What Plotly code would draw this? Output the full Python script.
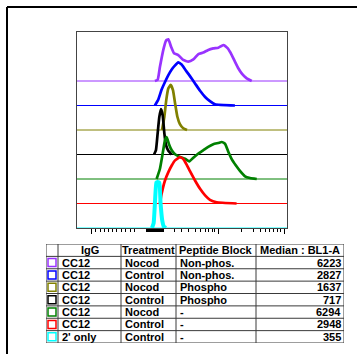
import plotly.graph_objects as go

W, H = 357, 354

# ---- histogram data (x in display channels 0-1000, y = normalized count) ----
series_names = ["CC12 Nocod Non-phos.", "CC12 Control Non-phos.", "CC12 Nocod Phospho",
                "CC12 Control Phospho", "CC12 Nocod -", "CC12 Control -", "2' only Control"]
series_colors = ["#9933FF", "#0000FF", "#808000", "#000000", "#008000", "#FF0000", "#00FFFF"]

purple_x = [371, 384, 395, 411, 424, 435, 448, 462, 482, 506, 530, 554, 578, 601, 625, 649, 673, 697, 718, 737, 752, 768, 786, 808, 832]
purple_y = [0, 0.05, 0.58, 1.27, 1.65, 1.70, 1.40, 1.13, 1.06, 0.86, 0.79, 0.88, 1.10, 1.16, 1.27, 1.33, 1.36, 1.47, 1.33, 1.06, 0.79, 0.52, 0.29, 0.11, 0]

blue_x = [371, 387, 403, 419, 435, 451, 467, 482, 498, 514, 538, 562, 586, 610, 633, 657, 752]
blue_y = [0, 0.24, 0.65, 0.96, 1.24, 1.47, 1.64, 1.76, 1.67, 1.48, 1.20, 0.90, 0.60, 0.35, 0.18, 0.05, 0]

olive_x = [405, 416, 425, 435, 446, 457, 467, 478, 490, 506, 524]
olive_y = [0, 0.54, 1.22, 1.70, 1.84, 1.63, 1.09, 0.54, 0.24, 0.07, 0]

black_x = [367, 376, 384, 392, 400, 408, 416, 424, 435, 451]
black_y = [0, 0.18, 0.86, 1.53, 1.85, 1.60, 0.86, 0.38, 0.15, 0]

green_x = [379, 395, 408, 419, 427, 438, 451, 467, 490, 514, 535, 554, 578, 601, 625, 649, 673, 689, 705, 721, 738, 756, 776, 800, 824, 856]
green_y = [0, 0.42, 1.04, 1.58, 1.71, 1.42, 1.17, 1.01, 0.90, 0.83, 0.72, 0.87, 1.04, 1.17, 1.31, 1.42, 1.47, 1.51, 1.44, 1.10, 0.79, 0.56, 0.33, 0.11, 0.04, 0]

red_x = [395, 403, 419, 435, 451, 467, 490, 506, 522, 538, 562, 586, 610, 633, 665, 760]
red_y = [0, 0.40, 0.94, 1.28, 1.55, 1.76, 1.89, 1.82, 1.59, 1.32, 0.94, 0.60, 0.33, 0.15, 0.05, 0]

cyan_x = [357, 365, 371, 378, 384, 392, 398, 406, 414, 424]
cyan_y = [0, 0.2, 1.0, 1.85, 1.88, 1.85, 1.0, 0.3, 0.05, 0]

# tick positions (display channels)
major_ticks = [70, 675, 986]
minor_ticks = [89, 110, 130, 151, 170, 190, 211, 232, 254, 275,
               462, 499, 532, 565, 587, 611, 627, 643, 656,
               782, 840, 875, 899, 919, 937, 954, 967]
zero_cluster = list(range(329, 414, 3))

# ---- table data ----
col_igg = ["CC12", "CC12", "CC12", "CC12", "CC12", "CC12", "2' only"]
col_treatment = ["Nocod", "Control", "Nocod", "Control", "Nocod", "Control", "Control"]
col_peptide = ["Non-phos.", "Non-phos.", "Phospho", "Phospho", "-", "-", "-"]
col_median = [6223, 2827, 1637, 717, 6294, 2948, 355]
header_labels = ["", "IgG", "Treatment", "Peptide Block", "Median : BL1-A"]
col_widths = [12, 63, 55, 80, 88]

curves_x = [purple_x, blue_x, olive_x, black_x, green_x, red_x, cyan_x]
curves_y = [purple_y, blue_y, olive_y, black_y, green_y, red_y, cyan_y]
n = len(curves_x)

fig = go.Figure()
for i in range(n):
    offset = n - 1 - i
    col = series_colors[i]
    fig.add_trace(go.Scatter(x=[0, 1000], y=[offset, offset], mode="lines",
                             line=dict(color=col, width=1), hoverinfo="skip",
                             showlegend=False))
    fig.add_trace(go.Scatter(x=curves_x[i], y=[v + offset for v in curves_y[i]],
                             mode="lines", name=series_names[i],
                             line=dict(color=col, width=4 if i == n - 1 else 2.7,
                                       shape="spline", smoothing=0.4),
                             showlegend=False))

px = lambda v: v / W
py = lambda v: 1 - v / H

fig.update_layout(
    xaxis=dict(domain=[px(77), px(287)], range=[0, 1000], showgrid=False, zeroline=False,
               showline=True, linecolor="#444", linewidth=1, mirror=True,
               tickmode="array", tickvals=major_ticks, showticklabels=False,
               ticks="outside", ticklen=5, tickwidth=1, tickcolor="#000",
               minor=dict(tickmode="array", tickvals=minor_ticks + zero_cluster,
                          ticks="outside", ticklen=3, tickwidth=1, tickcolor="#000")),
    yaxis=dict(domain=[py(228), py(32)], range=[0, 8], showgrid=False, zeroline=False,
               showline=True, linecolor="#444", linewidth=1, mirror=True,
               showticklabels=False, ticks=""),
)

# ---- table on its own hidden axes (x in column units, y in rows, 0 at top) ----
edges = [0]
for w in col_widths:
    edges.append(edges[-1] + w)
total_w = edges[-1]
n_rows = n + 1

fig.update_layout(
    xaxis2=dict(domain=[px(46), px(344)], range=[0, total_w], anchor="y2", visible=False,
                fixedrange=True),
    yaxis2=dict(domain=[py(343), py(244)], range=[n_rows, 0], anchor="x2", visible=False,
                fixedrange=True),
)

grid_col = "#3a3a3a"
for k in range(n_rows + 1):
    fig.add_shape(type="line", xref="x2", yref="y2", x0=0, x1=total_w, y0=k, y1=k,
                  line=dict(color=grid_col, width=1))
for e in edges:
    fig.add_shape(type="line", xref="x2", yref="y2", x0=e, x1=e, y0=0, y1=n_rows,
                  line=dict(color=grid_col, width=1))

tfont = dict(family="Liberation Sans", size=11, color="black", weight="bold")
for c in range(1, len(header_labels)):
    fig.add_annotation(xref="x2", yref="y2", x=(edges[c] + edges[c + 1]) / 2, y=0.5,
                       text=header_labels[c], showarrow=False, xanchor="center",
                       yanchor="middle", font=tfont)
for r in range(n):
    yy = r + 1.5
    for c, vals in ((1, col_igg), (2, col_treatment), (3, col_peptide)):
        fig.add_annotation(xref="x2", yref="y2", x=edges[c] + 1.5, y=yy, text=str(vals[r]),
                           showarrow=False, xanchor="left", yanchor="middle", font=tfont)
    fig.add_annotation(xref="x2", yref="y2", x=edges[5] - 1.5, y=yy, text=str(col_median[r]),
                       showarrow=False, xanchor="right", yanchor="middle", font=tfont)

# colour swatches
fig.add_trace(go.Scatter(x=[col_widths[0] / 2] * n, y=[r + 1.5 for r in range(n)],
                         xaxis="x2", yaxis="y2", mode="markers", hoverinfo="skip",
                         marker=dict(symbol="square-open", size=8,
                                     color=series_colors, line=dict(width=1.5, color=series_colors)),
                         showlegend=False))

# outer frame (top and left edges)
fig.add_shape(type="line", xref="paper", yref="paper", x0=px(7), y0=py(7), x1=1, y1=py(7),
              line=dict(color="black", width=2))
fig.add_shape(type="line", xref="paper", yref="paper", x0=px(7), y0=py(7), x1=px(7), y1=0,
              line=dict(color="black", width=2))

fig.update_layout(width=W, height=H, margin=dict(l=0, r=0, t=0, b=0),
                  paper_bgcolor="white", plot_bgcolor="white", showlegend=False)

fig.write_html("out.html", config={"displayModeBar": False},
               post_script="document.body.style.margin='0';document.body.style.overflow='hidden';")
